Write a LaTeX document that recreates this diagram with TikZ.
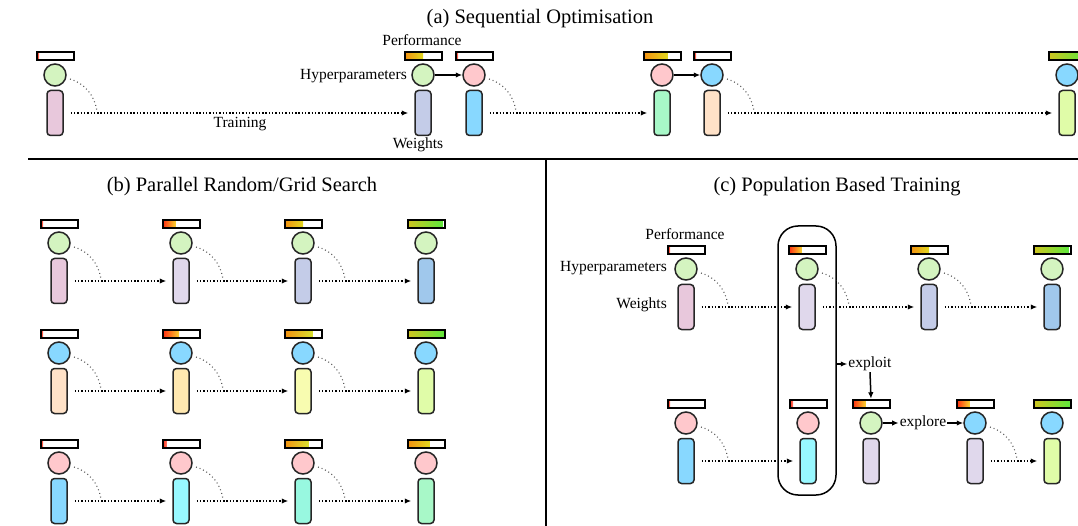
\documentclass[tikz,border=0pt]{standalone}
\usepackage{fontspec}
\setmainfont{Liberation Serif}
\usetikzlibrary{arrows.meta}
\definecolor{cgreen}{HTML}{D4F4C0}
\definecolor{cblue}{HTML}{88D8FF}
\definecolor{cpink}{HTML}{FFC8CC}
\definecolor{rpink}{HTML}{E8C8DC}
\definecolor{rlav}{HTML}{E0D8EC}
\definecolor{rperi}{HTML}{C4CCE8}
\definecolor{rblueb}{HTML}{A0C8EC}
\definecolor{rpeach}{HTML}{FFE2C8}
\definecolor{rorange}{HTML}{FFE8B0}
\definecolor{ryellow}{HTML}{F8FCB0}
\definecolor{rlime}{HTML}{E0FCA8}
\definecolor{rblue}{HTML}{88D8FF}
\definecolor{rcyan}{HTML}{98F8FF}
\definecolor{raqua}{HTML}{98F8E0}
\definecolor{rmint}{HTML}{A8F8C8}
\definecolor{pr}{HTML}{FF2A10}
\definecolor{prl}{HTML}{FF8070}
\definecolor{po}{HTML}{F39010}
\definecolor{py}{HTML}{E2D820}
\definecolor{pyd}{HTML}{D0C420}
\definecolor{pg}{HTML}{5EE83C}
\definecolor{pry}{HTML}{F8D030}
\definecolor{pyg}{HTML}{D8E030}
\tikzset{
  perf/.style={draw=black, line width=2pt, minimum width=37pt, minimum height=8.5pt, inner sep=0pt},
  hyp/.style={circle, draw=black!85, line width=1.5pt, minimum size=22pt, inner sep=0pt},
  wts/.style={rectangle, rounded corners=3.5pt, draw=black!85, line width=1.5pt, minimum width=16pt, minimum height=45pt, inner sep=0pt},
  train/.style={line width=1.8pt, dash pattern=on 1.4pt off 1.9pt, -{Latex[length=6.5pt,width=5.5pt]}},
  arcst/.style={line width=1.1pt, draw=black!65, dash pattern=on 1pt off 2.8pt},
  solidarr/.style={line width=1.5pt, -{Latex[length=6.5pt,width=5.5pt]}},
  lbl/.style={font=\fontsize{15.5}{18}\selectfont, inner sep=1pt},
  ttl/.style={font=\fontsize{20.5}{24}\selectfont, inner sep=0pt},
}
\newcommand\pbtunit[8]{%
  \fill[left color=#7,right color=#8] ({#2-18.5},{#3-23.25}) rectangle ({#2-18.5+37*#6},{#3-14.75});
  \node[perf] (#1b) at (#2,{#3-19}) {};
  \node[hyp,fill=#4] (#1h) at (#2,#3) {};
  \node[wts,fill=#5] (#1w) at (#2,{#3+38}) {};
}
\newcommand\trainarc[1]{\draw[arcst] ([shift={(15,4)}]#1h.center) .. controls ([shift={(29,8)}]#1h.center) and ([shift={(40,20)}]#1h.center) .. ([shift={(42,37)}]#1h.center);}
\newcommand\trainarrow[2]{\draw[train] ([xshift=7pt]#1w.east) -- ([xshift=-6pt]#2w.west);}
\begin{document}
\begin{tikzpicture}[x=1pt,y=-1pt]
\useasboundingbox (0,0) rectangle (1078,526);
\clip (0,0) rectangle (1078,526);
% dividers
\draw[line width=2pt] (28,159) -- (1078,159);
\draw[line width=2pt] (546,159) -- (546,526);
% titles
\node[ttl] (ta) at (540,19) {(a) Sequential Optimisation};
\node[ttl] (tb) at (242,187) {(b) Parallel Random/Grid Search};
\node[ttl] (tc) at (837,187) {(c) Population Based Training};
% ---------- (a)
\pbtunit{a1}{55}{75}{cgreen}{rpink}{0.07}{pr}{prl}
\pbtunit{a2}{423}{75}{cgreen}{rperi}{0.5}{po}{py}
\pbtunit{a3}{474}{75}{cpink}{rblue}{0.07}{pr}{prl}
\pbtunit{a4}{662}{75}{cpink}{rmint}{0.65}{po}{py}
\pbtunit{a5}{712}{75}{cblue}{rpeach}{0.07}{pr}{prl}
\pbtunit{a6}{1067}{75}{cblue}{rlime}{1}{pyd}{pg}
\trainarc{a1}\trainarc{a3}\trainarc{a5}
\trainarrow{a1}{a2}\trainarrow{a3}{a4}\trainarrow{a5}{a6}
\draw[solidarr] (a2h.east) -- (a3h.west);
\draw[solidarr] (a4h.east) -- (a5h.west);
\node[lbl] (aperf) at (422,40) {Performance};
\node[lbl, anchor=east] (ahyp) at (408,76) {Hyperparameters};
\node[lbl] (aw) at (418,145) {Weights};
\node[lbl] (atr) at (240,124) {Training};
% ---------- (b)
\pbtunit{b11}{59}{243}{cgreen}{rpink}{0.07}{pr}{prl}
\pbtunit{b12}{181}{243}{cgreen}{rlav}{0.35}{pr}{pry}
\pbtunit{b13}{303}{243}{cgreen}{rperi}{0.5}{po}{py}
\pbtunit{b14}{426}{243}{cgreen}{rblueb}{0.95}{pyd}{pg}
\pbtunit{b21}{59}{353}{cblue}{rpeach}{0.07}{pr}{prl}
\pbtunit{b22}{181}{353}{cblue}{rorange}{0.45}{pr}{pry}
\pbtunit{b23}{303}{353}{cblue}{ryellow}{0.75}{po}{pyg}
\pbtunit{b24}{426}{353}{cblue}{rlime}{1}{pyd}{pg}
\pbtunit{b31}{59}{463}{cpink}{rblue}{0.07}{pr}{prl}
\pbtunit{b32}{181}{463}{cpink}{rcyan}{0.12}{pr}{prl}
\pbtunit{b33}{303}{463}{cpink}{raqua}{0.65}{po}{pyg}
\pbtunit{b34}{426}{463}{cpink}{rmint}{0.6}{po}{py}
\foreach \r in {1,2,3}{
  \trainarc{b\r1}\trainarc{b\r2}\trainarc{b\r3}
  \trainarrow{b\r1}{b\r2}\trainarrow{b\r2}{b\r3}\trainarrow{b\r3}{b\r4}
}
% ---------- (c)
\node[draw, line width=1.5pt, rounded corners=20pt, minimum width=58pt, minimum height=269pt, inner sep=0pt] (pop) at (807,360.5) {};
\pbtunit{c1}{686}{269}{cgreen}{rpink}{0.07}{pr}{prl}
\pbtunit{c2}{807}{269}{cgreen}{rlav}{0.35}{pr}{pry}
\pbtunit{c3}{929}{269}{cgreen}{rperi}{0.5}{po}{py}
\pbtunit{c4}{1052}{269}{cgreen}{rblueb}{0.95}{pyd}{pg}
\pbtunit{c5}{686}{423}{cpink}{rblue}{0.07}{pr}{prl}
\pbtunit{c6}{808}{423}{cpink}{rcyan}{0.1}{pr}{prl}
\pbtunit{c7}{871}{423}{cgreen}{rlav}{0.35}{pr}{pry}
\pbtunit{c8}{975}{423}{cblue}{rlav}{0.35}{pr}{pry}
\pbtunit{c9}{1052}{423}{cblue}{rlime}{1}{pyd}{pg}
\trainarc{c1}\trainarc{c2}\trainarc{c3}\trainarc{c5}\trainarc{c8}
\trainarrow{c1}{c2}\trainarrow{c2}{c3}\trainarrow{c3}{c4}
\trainarrow{c5}{c6}\trainarrow{c8}{c9}
\node[lbl] (cperf) at (685,234) {Performance};
\node[lbl, anchor=east] (chyp) at (668,268) {Hyperparameters};
\node[lbl, anchor=east] (cw) at (668,305) {Weights};
\node[lbl] (exploit) at (870,364) {exploit};
\draw[solidarr] (pop.east |- exploit.west) -- (exploit.west);
\draw[solidarr] (exploit.south) -- (c7b.north);
\node[lbl] (explore) at (923,423) {explore};
\draw[solidarr] (c7h.east) -- (explore.west);
\draw[solidarr] (explore.east) -- (c8h.west);
\end{tikzpicture}
\end{document}
